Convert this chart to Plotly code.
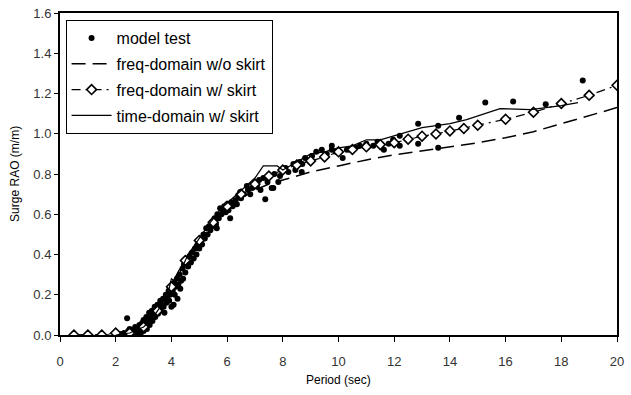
import plotly.graph_objects as go

# model test points (period, RAO)
test_x = [2.1,2.2,2.3,2.35,2.41,2.45,2.5,2.55,2.6,2.62,2.68,2.7,2.75,2.8,2.85,2.9,2.92,2.95,3.0,3.0,
          3.05,3.1,3.12,3.15,3.2,3.22,3.25,3.3,3.32,3.35,3.4,3.42,3.45,3.5,3.52,3.55,3.6,3.62,3.65,3.7,3.72,3.75,3.8,3.82,3.85,3.9,3.92,3.95,4.0,4.0,
          4.05,4.08,4.1,4.12,4.15,4.2,4.22,4.25,4.3,4.32,4.35,4.4,4.42,4.45,4.5,4.55,4.6,4.65,4.7,4.75,4.8,4.85,4.9,4.95,5.0,
          5.05,5.1,5.15,5.2,5.25,5.3,5.35,5.4,5.45,5.5,5.55,5.6,5.63,5.65,5.7,5.75,5.8,5.85,5.9,5.95,6.0,6.05,6.11,
          6.15,6.2,6.3,6.35,6.4,6.47,6.5,6.6,6.71,6.75,6.83,6.9,7.0,7.07,7.15,7.2,7.3,7.37,7.45,7.5,
          7.6,7.66,7.7,7.84,7.9,7.95,8.1,8.2,8.38,8.45,8.6,8.68,8.7,8.8,8.98,9.05,
          9.2,9.4,9.5,9.58,9.76,9.76,9.9,10.15,10.3,10.41,10.6,10.77,11.0,11.25,11.4,11.63,11.8,11.96,
          12.2,12.2,12.86,12.86,13.58,13.58,14.33,15.27,16.27,17.44,18.77]
test_y = [0.0,0.005,0.01,0.0,0.083,0.02,0.03,0.01,0.0,0.025,0.015,0.04,0.005,0.02,0.05,0.01,0.035,0.06,0.02,0.075,
          0.045,0.09,0.03,0.065,0.11,0.05,0.085,0.12,0.07,0.10,0.14,0.09,0.12,0.15,0.105,0.13,0.17,0.12,0.15,0.18,0.14,0.11,0.2,0.16,0.18,0.22,0.17,0.2,0.24,0.14,
          0.22,0.15,0.26,0.2,0.24,0.28,0.18,0.25,0.3,0.23,0.27,0.33,0.28,0.35,0.31,0.37,0.34,0.39,0.36,0.41,0.38,0.43,0.40,0.45,0.43,
          0.47,0.45,0.50,0.48,0.53,0.50,0.54,0.52,0.56,0.54,0.58,0.55,0.53,0.60,0.58,0.63,0.60,0.62,0.64,0.61,0.65,0.62,0.58,
          0.66,0.64,0.67,0.65,0.69,0.71,0.68,0.70,0.74,0.72,0.70,0.73,0.75,0.74,0.77,0.72,0.78,0.675,0.76,0.79,
          0.73,0.73,0.80,0.76,0.79,0.82,0.83,0.81,0.85,0.82,0.86,0.81,0.85,0.88,0.87,0.89,
          0.91,0.92,0.89,0.90,0.92,0.94,0.91,0.88,0.92,0.92,0.93,0.94,0.95,0.94,0.96,0.92,0.95,0.97,
          0.99,0.94,1.05,0.95,1.04,0.93,1.08,1.155,1.16,1.146,1.265]

# frequency domain without skirt
fno_x = [0.5,1.0,1.5,2.0,2.5,3.0,3.5,4.0,4.5,5.0,5.5,6.0,6.5,7.0,7.5,8.0,9.0,10.0,11.0,12.0,13.0,14.0,15.0,16.0,17.0,18.0,19.0,20.0]
fno_y = [0.0,0.0,0.0,0.0,0.01,0.04,0.12,0.25,0.38,0.48,0.57,0.63,0.68,0.72,0.75,0.77,0.81,0.84,0.87,0.895,0.915,0.935,0.955,0.98,1.01,1.05,1.09,1.13]

# frequency domain with skirt
fsk_x = [0.5,1.0,1.5,2.0,2.5,3.0,3.5,4.0,4.5,5.0,5.5,6.0,6.5,7.0,7.5,8.0,8.5,9.0,9.5,10.0,10.5,11.0,11.5,12.0,12.5,13.0,13.5,14.0,14.5,15.0,16.0,17.0,18.0,19.0,20.0]
fsk_y = [0.0,0.0,0.0,0.01,0.01,0.04,0.12,0.24,0.37,0.47,0.56,0.64,0.70,0.75,0.79,0.82,0.845,0.865,0.885,0.91,0.922,0.935,0.946,0.955,0.973,0.988,0.999,1.014,1.026,1.042,1.072,1.107,1.15,1.191,1.241]

# time domain with skirt
td_x = [2.0,2.5,3.0,3.3,3.6,3.9,4.0,4.1,4.3,4.6,5.0,5.4,5.8,6.2,6.6,7.0,7.3,7.8,8.0,8.5,9.0,9.5,10.0,10.5,11.0,11.5,12.0,13.0,14.0,14.6,15.8,16.9,18.0,18.6]
td_y = [0.0,0.01,0.04,0.08,0.14,0.22,0.28,0.27,0.31,0.40,0.48,0.56,0.63,0.68,0.73,0.78,0.84,0.84,0.82,0.86,0.90,0.91,0.93,0.94,0.97,0.97,0.99,1.03,1.05,1.07,1.125,1.12,1.14,1.155]

x_ticks = [0, 2, 4, 6, 8, 10, 12, 14, 16, 18, 20]
y_ticks = [0.0, 0.2, 0.4, 0.6, 0.8, 1.0, 1.2, 1.4, 1.6]

FONT = "Liberation Sans, Arial, sans-serif"

fig = go.Figure()
fig.add_trace(go.Scatter(x=test_x, y=test_y, mode="markers", name="model test",
                         marker=dict(color="black", size=6), legendgroup="a"))
fig.add_trace(go.Scatter(x=fno_x, y=fno_y, mode="lines", name="freq-domain w/o skirt",
                         line=dict(color="black", width=1.5, dash="14px,7px"), legendgroup="b"))
fig.add_trace(go.Scatter(x=fsk_x, y=fsk_y, mode="lines+markers", name="freq-domain w/ skirt",
                         line=dict(color="black", width=1.2, dash="9px,5px,2px,5px"),
                         marker=dict(symbol="diamond", size=7.5, color="white",
                                     line=dict(color="black", width=1.6)), legendgroup="c"))
fig.add_trace(go.Scatter(x=td_x, y=td_y, mode="lines", name="time-domain w/ skirt",
                         line=dict(color="black", width=1.2), legendgroup="d"))

fig.update_layout(
    width=631, height=395,
    margin=dict(l=60, r=14, t=13, b=60, autoexpand=False),
    paper_bgcolor="white", plot_bgcolor="white",
    font=dict(family=FONT, color="black"),
    showlegend=True,
    legend=dict(x=0.01, y=0.978, xanchor="left", yanchor="top",
                bordercolor="black", borderwidth=1, bgcolor="white",
                font=dict(size=16, family=FONT, color="black"),
                tracegroupgap=2, traceorder="grouped", itemwidth=40),
    xaxis=dict(range=[0, 20], tickvals=x_ticks, ticktext=[str(v) for v in x_ticks],
               automargin=False,
               showgrid=False, zeroline=False, showline=True, linecolor="black", linewidth=2,
               mirror=True, ticks="outside", ticklen=5, tickcolor="black", tickwidth=1,
               tickfont=dict(size=13, color="#333"), ticklabelstandoff=8),
    yaxis=dict(range=[0, 1.6], tickvals=y_ticks, ticktext=[f"{v:.1f}" for v in y_ticks],
               automargin=False,
               showgrid=False, zeroline=False, showline=True, linecolor="black", linewidth=2,
               mirror=True, ticks="outside", ticklen=4, tickcolor="black", tickwidth=1,
               tickfont=dict(size=13, color="#333")),
    annotations=[
        dict(text="Period (sec)", xref="paper", yref="paper", x=0.5, y=-0.14,
             xanchor="center", yanchor="middle", showarrow=False,
             font=dict(size=12, color="black", family=FONT)),
        dict(text="Surge RAO (m/m)", xref="paper", yref="paper", x=-0.081, y=0.5,
             xanchor="center", yanchor="middle", textangle=-90, showarrow=False,
             font=dict(size=12, color="black", family=FONT)),
    ],
)

fig.write_html("out.html")
